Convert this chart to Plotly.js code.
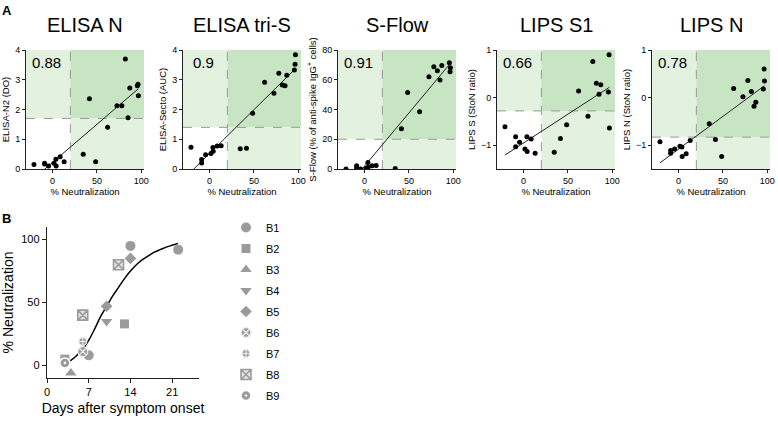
<!DOCTYPE html>
<html>
<head>
<meta charset="utf-8">
<script src="https://cdn.plot.ly/plotly-3.0.1.min.js"></script>
<style>
  body { margin: 0; background: #fff; }
  #chart { width: 778px; height: 424px; }
</style>
</head>
<body>
<div id="chart"></div>
<script>
// % neutralization of each serum sample (shared x of panel A)
var neut = [-21, -9, -9, -4.5, 1.5, 3.7, 4, 8.5, 13, 34.5, 41.5, 48.5, 62, 72.5, 78, 82, 85, 87, 95.5, 96.3, 96.7];

// assay readouts, same sample order
var elisaN = [0.15, 0.19, 0.17, 0.1, 0.19, 0.33, 0.1, 0.41, 0.24, 0.5, 2.36, 0.24, 1.4, 2.13, 2.13, 3.7, 1.72, 2.72, 2.8, 2.85, 2.46];
var elisaS = [0.73, 0.32, 0.2, 0.48, 0.52, 0.72, 0.6, 0.77, 0.78, 0.68, 0.7, 1.87, 2.92, 2.55, 3.22, 2.82, 2.8, 3.15, 3.33, 3.52, 3.84];
var sFlow = [0, 2.2, 0.5, 0, 0.3, 4.3, 1.2, 2.2, 2.4, 0.3, 27, 51.5, 38.5, 62, 68.8, 66, 59.8, 69.5, 71.5, 65.4, 68];
var lipsS = [-0.61, -0.82, -1.03, -0.94, -1.08, -0.82, -1.13, -0.87, -1.17, -1.15, -0.86, -0.57, 0.14, -0.39, 0.76, 0.3, 0.07, 0.27, 0.12, 0.9, -0.64];
var lipsN = [-0.93, -1.11, -1.17, -1.08, -1.02, -1.04, -1.24, -1.18, -0.9, -0.55, -0.88, -1.24, 0.19, 0.02, 0.36, 0.13, -0.18, -0.1, 0.18, 0.6, 0.35];

var titlesA = ['ELISA N', 'ELISA tri-S', 'S-Flow', 'LIPS S1', 'LIPS N'];
var yTitlesA = ['ELISA-N2 (DO)', 'ELISA-Secto (AUC)', 'S-Flow (% of anti-spike IgG<sup>+</sup> cells)',
                'LIPS S (StoN ratio)', 'LIPS N (StoN ratio)'];
var rValues = ['0.88', '0.9', '0.91', '0.66', '0.78'];
var cutoffs = [1.7, 1.4, 20, -0.28, -0.83];
var neutCutoff = 20;

// panel B: neutralization by days after symptom onset
var patients = ['B1', 'B2', 'B3', 'B4', 'B5', 'B6', 'B7', 'B8', 'B9'];
var days = [[7, 14, 22], [3, 13], [4], [10], [10, 14], [6], [6], [6, 12], [3]];
var pct = [[8, 95, 92], [5, 33], [-6], [35], [47, 85], [11], [19], [40, 80], [2]];
// sigmoid fit
var fitDays = [3, 4, 5, 6, 7, 8, 9, 10, 11, 12, 13, 14, 15, 16, 17, 18, 19, 20, 21, 22];
var fitPct = [2, 4, 8, 13, 20, 29, 39, 47, 55, 62, 69, 75, 80, 84, 87, 90, 92, 94, 95.5, 97];

var FONT = 'Liberation Sans, Arial, Helvetica, sans-serif';
var W = 778, H = 424;
var LIGHT = '#e3f1df', DARK = '#c8e5c3', GREY = '#9b9b9b';

var panelA = [
  {y: elisaN, yr: [0, 4], dt: 1, left: 26},
  {y: elisaS, yr: [0, 4], dt: 1, left: 183},
  {y: sFlow, yr: [0, 80], dt: 20, left: 338},
  {y: lipsS, yr: [-1.5, 1], dt: 1, left: 497},
  {y: lipsN, yr: [-1.5, 1], dt: 1, left: 652}
];
var xr = [-30, 103];

function linfit(x, y) {
  var n = x.length, sx = 0, sy = 0, sxx = 0, sxy = 0;
  for (var i = 0; i < n; i++) { sx += x[i]; sy += y[i]; sxx += x[i] * x[i]; sxy += x[i] * y[i]; }
  var b = (n * sxy - sx * sy) / (n * sxx - sx * sx);
  return {b: b, a: (sy - b * sx) / n};
}

var data = [], shapes = [], annotations = [];
var layout = {
  width: W, height: H,
  margin: {l: 0, r: 0, t: 0, b: 0},
  paper_bgcolor: '#fff', plot_bgcolor: 'rgba(0,0,0,0)',
  font: {family: FONT, color: '#000'},
  showlegend: true,
  legend: {
    x: 226 / W, y: 1 - 213 / H, xanchor: 'left', yanchor: 'top',
    font: {size: 11, family: FONT}, tracegroupgap: 2, bgcolor: 'rgba(0,0,0,0)'
  }
};

function axisBase() {
  return {
    showline: true, linecolor: '#222', linewidth: 1, ticks: 'outside', ticklen: 3,
    tickcolor: '#222', showgrid: false, zeroline: false, fixedrange: true
  };
}

panelA.forEach(function (p, i) {
  var k = i + 1, xa = 'x' + (k === 1 ? '' : k), ya = 'y' + (k === 1 ? '' : k);
  var xKey = 'xaxis' + (k === 1 ? '' : k), yKey = 'yaxis' + (k === 1 ? '' : k);
  var xAx = axisBase(), yAx = axisBase();
  Object.assign(xAx, {
    domain: [p.left / W, (p.left + 118) / W], range: xr, anchor: ya,
    tickvals: [0, 50, 100], tickfont: {size: 9},
    title: {text: '% Neutralization', font: {size: 9.5}, standoff: 2}
  });
  Object.assign(yAx, {
    domain: [1 - 169 / H, 1 - 50 / H], range: p.yr, anchor: xa,
    dtick: p.dt, tick0: 0, tickfont: {size: 9},
    title: {text: yTitlesA[i], font: {size: 9.5}, standoff: 3}
  });
  layout[xKey] = xAx;
  layout[yKey] = yAx;

  var c = cutoffs[i];
  // quadrant shading
  shapes.push({type: 'rect', xref: xa, yref: ya, x0: xr[0], x1: neutCutoff, y0: c, y1: p.yr[1], fillcolor: LIGHT, line: {width: 0}, layer: 'below'});
  shapes.push({type: 'rect', xref: xa, yref: ya, x0: neutCutoff, x1: xr[1], y0: c, y1: p.yr[1], fillcolor: DARK, line: {width: 0}, layer: 'below'});
  shapes.push({type: 'rect', xref: xa, yref: ya, x0: neutCutoff, x1: xr[1], y0: p.yr[0], y1: c, fillcolor: LIGHT, line: {width: 0}, layer: 'below'});
  shapes.push({type: 'line', xref: xa, yref: ya, x0: neutCutoff, x1: neutCutoff, y0: p.yr[0], y1: p.yr[1], line: {color: '#999', width: 1, dash: 'dash'}, layer: 'below'});
  shapes.push({type: 'line', xref: xa, yref: ya, x0: xr[0], x1: xr[1], y0: c, y1: c, line: {color: '#999', width: 1, dash: 'dash'}, layer: 'below'});

  var f = linfit(neut, p.y);
  var x0 = Math.min.apply(null, neut), x1 = Math.max.apply(null, neut);
  data.push({
    type: 'scatter', mode: 'lines', xaxis: xa, yaxis: ya, showlegend: false, hoverinfo: 'skip',
    x: [x0, x1], y: [f.a + f.b * x0, f.a + f.b * x1], line: {color: '#222', width: 1}
  });
  data.push({
    type: 'scatter', mode: 'markers', xaxis: xa, yaxis: ya, showlegend: false,
    x: neut, y: p.y, marker: {color: '#000', size: 5}
  });

  annotations.push({
    xref: xa + ' domain', yref: 'paper', x: 0.5, y: 1 - 25 / H, xanchor: 'center', yanchor: 'middle',
    text: titlesA[i], showarrow: false, font: {size: 20}
  });
  annotations.push({
    xref: xa + ' domain', yref: ya + ' domain', x: 0.175, y: 0.985, xanchor: 'center', yanchor: 'top',
    text: rValues[i], showarrow: false, font: {size: 15}
  });
});

// panel B axes
var xB = axisBase(), yB = axisBase();
Object.assign(xB, {
  domain: [47 / W, 199 / W], range: [0, 25.5], anchor: 'y6', linewidth: 1.2, ticklen: 4,
  tickvals: [0, 7, 14, 21], tickfont: {size: 11},
  title: {text: 'Days after symptom onset', font: {size: 14}, standoff: 5}
});
Object.assign(yB, {
  domain: [1 - 378 / H, 1 - 227 / H], range: [-10, 110], anchor: 'x6', linewidth: 1.2, ticklen: 4,
  tickvals: [0, 50, 100], tickfont: {size: 11},
  title: {text: '% Neutralization', font: {size: 14}, standoff: 6}
});
layout.xaxis6 = xB;
layout.yaxis6 = yB;

data.push({
  type: 'scatter', mode: 'lines', xaxis: 'x6', yaxis: 'y6', showlegend: false, hoverinfo: 'skip',
  x: fitDays, y: fitPct, line: {color: '#000', width: 1.5, shape: 'spline'}
});

var symStyles = [
  {symbol: 'circle', size: 10, color: GREY},
  {symbol: 'square', size: 9, color: GREY},
  {symbol: 'triangle-up', size: 10, color: GREY},
  {symbol: 'triangle-down', size: 10, color: GREY},
  {symbol: 'diamond', size: 9, color: GREY},
  {symbol: 'circle-x', size: 10, color: GREY, line: {color: '#eee', width: 1.3}},
  {symbol: 'circle-cross', size: 8, color: GREY, line: {color: '#eee', width: 1.2}},
  {symbol: 'square-x', size: 10, color: '#e4e4e4', line: {color: GREY, width: 1.6}},
  {symbol: 'circle-dot', size: 10, color: GREY, line: {color: '#fff', width: 1.5}}
];
patients.forEach(function (name, i) {
  var s = symStyles[i];
  data.push({
    type: 'scatter', mode: 'markers', xaxis: 'x6', yaxis: 'y6', name: name, legendgroup: name,
    x: days[i], y: pct[i], cliponaxis: false,
    marker: {symbol: s.symbol, size: s.size, color: s.color, line: s.line || {width: 0}}
  });
});

annotations.push({xref: 'paper', yref: 'paper', x: 0, y: 1 - 1 / H, xanchor: 'left', yanchor: 'top',
  text: '<b>A</b>', showarrow: false, font: {size: 13}});
annotations.push({xref: 'paper', yref: 'paper', x: 0, y: 1 - 209 / H, xanchor: 'left', yanchor: 'top',
  text: '<b>B</b>', showarrow: false, font: {size: 13}});

layout.shapes = shapes;
layout.annotations = annotations;

Plotly.newPlot('chart', data, layout, {displayModeBar: false, staticPlot: true});
</script>
</body>
</html>
